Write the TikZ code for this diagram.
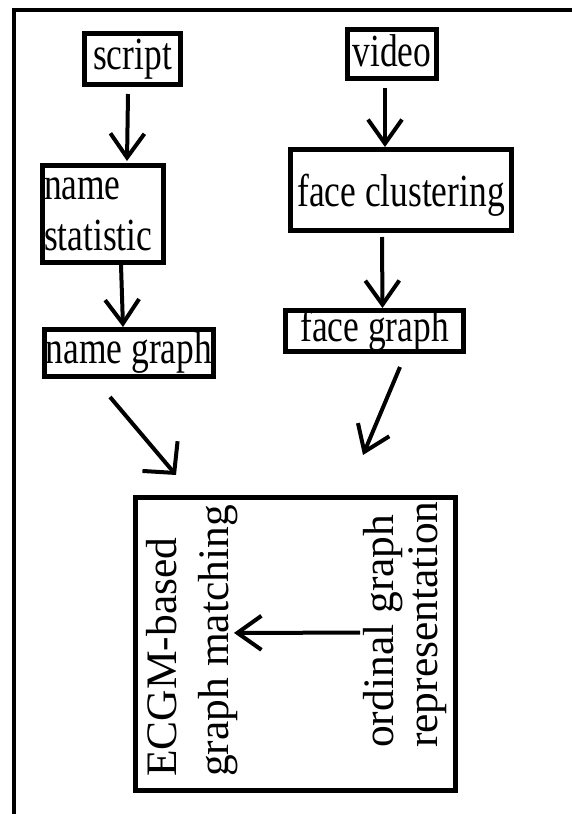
\documentclass[tikz,border=0pt]{standalone}
\usepackage{fontspec}
\setmainfont{Liberation Serif}
% narrow face for the horizontal labels
\newfontfamily\hfont{Liberation Serif}[FakeStretch=0.77]
\usetikzlibrary{arrows.meta}
\newcommand\lnstrut{\rule[-10pt]{0pt}{41pt}}

\begin{document}
\begin{tikzpicture}[x=1pt,y=-1pt,
  boxbase/.style={draw, line width=5pt, inner sep=0pt,
    font=\hfont\fontsize{46}{51}\selectfont},
  box/.style={boxbase, text height=31pt, text depth=10pt},
  vtext/.style={rotate=90, inner sep=0pt, align=left, anchor=north west},
  arr/.style={line width=4pt, -{Straight Barb[length=24pt,width=34pt]}},
  widearr/.style={line width=4pt, -{Straight Barb[length=22pt,width=46pt]}},
]
\useasboundingbox (0,0) rectangle (571,814);
\fill[white] (0,0) rectangle (571,814);

% outer frame (top and left sides only)
\draw[line width=4.5pt] (14,830) -- (14,10) -- (590,10);

% script branch
\node[box, minimum width=96pt, minimum height=51pt] (script) at (132.5,59) {script};
\node[boxbase, minimum width=121pt, minimum height=97pt, text width=118pt, align=left]
  (namestat) at (103,214) {name\lnstrut\\statistic\lnstrut};
\node[box, minimum width=169pt, minimum height=47pt] (namegraph) at (129,353) {name graph};

% video branch
\node[box, minimum width=89pt, minimum height=49pt, text height=33pt, text depth=8pt]
  (video) at (392,54) {video};
\node[box, minimum width=221pt, minimum height=81pt, text height=37pt, text depth=4pt]
  (faceclust) at (401,190) {face clustering};
\node[box, minimum width=178pt, minimum height=41pt] (facegraph) at (374.5,331) {face graph};

% matching stage
\node[draw, line width=5pt, minimum width=320pt, minimum height=293pt] (match) at (295.5,644) {};
\node[vtext, font=\fontsize{43.5}{52}\selectfont] (ecgm) at (146,777) {ECGM-based\\graph matching};
\node[vtext, font=\fontsize{43.5}{44}\selectfont] (ordinal) at (363,748) {ordinal graph\\representation};

% connectors
\draw[arr] ([xshift=-4.5pt,yshift=-7pt]script.south) -- ([xshift=24pt,yshift=2pt]namestat.north);
\draw[arr] ([xshift=18pt]namestat.south) -- ([xshift=-6pt]namegraph.north);
\draw[arr] ([xshift=-7pt,yshift=-7pt]video.south) -- ([xshift=-16pt]faceclust.north);
\draw[arr] ([xshift=-19pt,yshift=-4pt]faceclust.south) -- ([xshift=8pt]facegraph.north);
\draw[widearr] ([xshift=-19pt,yshift=-18pt]namegraph.south) -- ([xshift=-119.5pt,yshift=20pt]match.north);
\draw[arr] ([xshift=25.5pt,yshift=-13pt]facegraph.south) -- ([xshift=67.5pt,yshift=40pt]match.north);
\draw[arr] ([xshift=-3pt,yshift=-8pt]ordinal.north) -- ([xshift=-4pt,yshift=8pt]ecgm.south);
\end{tikzpicture}
\end{document}
